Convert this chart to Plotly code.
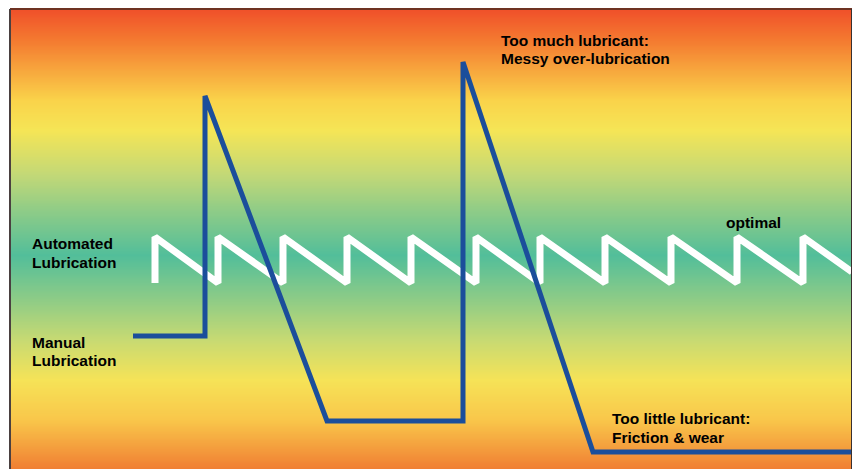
import plotly.graph_objects as go
import numpy as np

# Manual lubrication level (blue) over time
manual_x = [123, 195, 195, 317, 453, 453, 583, 842]
manual_y = [133, 133, 373, 48, 48, 407, 17, 17]

# Automated lubrication level (white sawtooth)
auto_x = [145, 145, 208, 208, 273, 273, 337, 337, 401, 401, 466, 466, 530, 530,
          595, 595, 661, 661, 727, 727, 793, 793, 842]
auto_y = [186, 232, 186, 232, 186, 232, 186, 232, 186, 232, 186, 232, 186, 232,
          186, 232, 186, 232, 186, 232, 186, 232, 197]

# Background gradient stops (level, colour)
grad_levels = [0, 49, 89, 129, 169, 214, 259, 294, 339, 369, 429, 460]
grad_colors = ["#F07E33", "#F9C64A", "#F6E357", "#C8DA72", "#8FCC86", "#52BE9A",
               "#8FCC87", "#C2D877", "#F5E556", "#FAD34A", "#F47A30", "#F0502A"]

# Text labels: (x, y, text)
labels = [
    (21, 226, "Automated"), (21, 207, "Lubrication"),
    (21, 127, "Manual"), (21, 109, "Lubrication"),
    (715, 247, "optimal"),
    (490, 429, "Too much lubricant:"), (490, 411, "Messy over-lubrication"),
    (601, 51, "Too little lubricant:"), (601, 32, "Friction &amp; wear"),
]

fig = go.Figure()

zmin, zmax = grad_levels[0], grad_levels[-1]
cscale = [[(l - zmin) / (zmax - zmin), c] for l, c in zip(grad_levels, grad_colors)]
ys = np.linspace(zmin, zmax, 200)
fig.add_trace(go.Heatmap(x=[0, 842], y=ys, z=[[v, v] for v in ys], colorscale=cscale,
                         zmin=zmin, zmax=zmax, showscale=False, zsmooth="best",
                         hoverinfo="skip"))

fig.add_trace(go.Scatter(x=auto_x, y=auto_y, mode="lines",
                         line=dict(color="white", width=7), hoverinfo="skip"))
fig.add_trace(go.Scatter(x=manual_x, y=manual_y, mode="lines",
                         line=dict(color="#1B4E9B", width=5), hoverinfo="skip"))

font = dict(family="Liberation Sans, Arial, sans-serif", size=15.5, color="black")
for x, y, t in labels:
    fig.add_annotation(x=x, y=y, text="<b>" + t + "</b>", showarrow=False,
                       xanchor="left", yanchor="middle", align="left", font=font,
                       borderpad=0)

fig.add_shape(type="line", xref="paper", yref="paper", x0=0, x1=1, y0=1, y1=1,
              line=dict(color="#6E3222", width=2))
fig.add_shape(type="line", xref="paper", yref="paper", x0=0, x1=0, y0=0, y1=1,
              line=dict(color="#4A4040", width=2))
fig.add_shape(type="line", xref="paper", yref="paper", x0=1, x1=1, y0=0, y1=1,
              line=dict(color="#3A3030", width=2))

fig.update_layout(
    width=852, height=469,
    margin=dict(l=10, r=0, t=9, b=0),
    paper_bgcolor="white", plot_bgcolor="white",
    showlegend=False,
    xaxis=dict(range=[0, 842], visible=False, fixedrange=True),
    yaxis=dict(range=[0, 460], visible=False, fixedrange=True),
)

fig.write_html("out.html", config={"displayModeBar": False},
               post_script="document.body.style.margin='0';"
                           "document.body.style.overflow='hidden';")
